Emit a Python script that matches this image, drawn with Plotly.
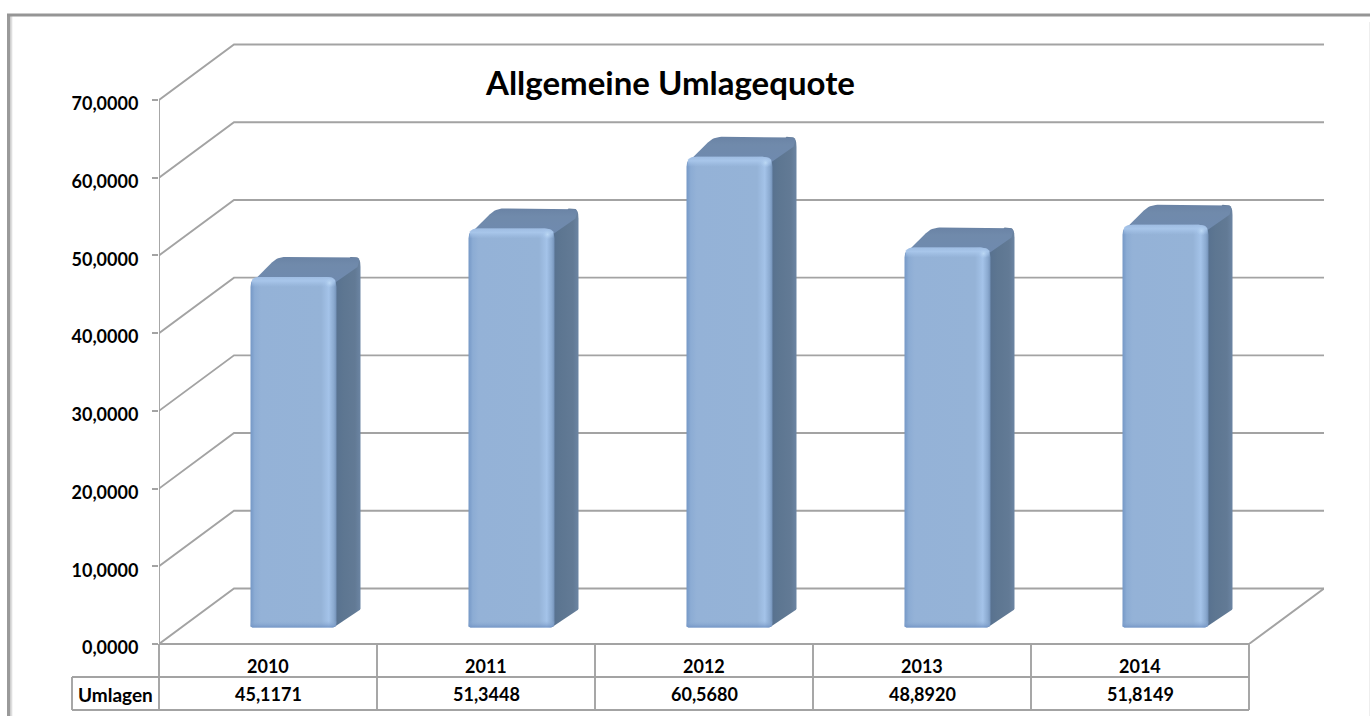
import plotly.graph_objects as go

# ---- data ----
years = ["2010", "2011", "2012", "2013", "2014"]
values = [45.1171, 51.3448, 60.5680, 48.8920, 51.8149]
value_labels = ["45,1171", "51,3448", "60,5680", "48,8920", "51,8149"]
tick_values = [0, 10, 20, 30, 40, 50, 60, 70]
tick_labels = ["0,0000", "10,0000", "20,0000", "30,0000", "40,0000", "50,0000", "60,0000", "70,0000"]
series_name = "Umlagen"
title = "Allgemeine Umlagequote"

# ---- geometry (pixels of the page) ----
W, H = 1370, 716
L, R, T, B = 159, 1324, 43, 644      # plot area
FR = 1249                            # right end of the front plane
PX_X = (FR - L) / len(years)         # px per category
PX_Y = (644 - 100) / 70              # px per value unit
XMIN, XMAX = -0.5, -0.5 + (R - L) / PX_X
YMAX = (B - T) / PX_Y
WALL_DX, WALL_DY = 75, 55.5          # depth of the floor
BAR_DX, BAR_DY = 25.5, 16.5          # where the bar fronts stand in the depth
DEP_DX, DEP_DY = 24, 20              # depth of a bar
BAR_W = 86
GRID = "#a3a3a3"
FONT = "Lato, Carlito, Calibri, sans-serif"
TXT = 18


def ux(px):
    return px / PX_X


def uy(px):
    return px / PX_Y


def px_paper_x(px):
    return (px - L) / (R - L)


def px_paper_y(px):
    return (B - px) / (B - T)


def rounded(points):
    """points: (x_px, y_px_up, radius_px) -> sampled outline in px."""
    out = []
    n = len(points)
    for i, (x, y, r) in enumerate(points):
        if r <= 0:
            out.append((x, y))
            continue
        px, py, _ = points[i - 1]
        nx, ny, _ = points[(i + 1) % n]
        d1 = ((px - x) ** 2 + (py - y) ** 2) ** 0.5
        d2 = ((nx - x) ** 2 + (ny - y) ** 2) ** 0.5
        a = (x + (px - x) * min(r / d1, 0.5), y + (py - y) * min(r / d1, 0.5))
        b = (x + (nx - x) * min(r / d2, 0.5), y + (ny - y) * min(r / d2, 0.5))
        for k in range(9):
            t = k / 8
            out.append(((1 - t) ** 2 * a[0] + 2 * t * (1 - t) * x + t ** 2 * b[0],
                        (1 - t) ** 2 * a[1] + 2 * t * (1 - t) * y + t ** 2 * b[1]))
    out.append(out[0])
    return out


def poly(cat, val, points, **kw):
    """Draw an outline given as pixel offsets around (category, value)."""
    o = rounded(points)
    return go.Scatter(x=[cat + ux(p[0]) for p in o], y=[val + uy(p[1]) for p in o],
                      mode="lines", line=dict(width=0), fill="toself",
                      hoverinfo="skip", showlegend=False, **kw)


def line(xs, ys, width=1.9):
    return go.Scatter(x=xs, y=ys, mode="lines", line=dict(color=GRID, width=width),
                      hoverinfo="skip", showlegend=False)


fig = go.Figure()

# walls: grid on the back wall and its run down the side wall
for v in tick_values:
    fig.add_trace(line([XMIN, XMIN + ux(WALL_DX), XMAX],
                       [v, v + uy(WALL_DY), v + uy(WALL_DY)]))
fig.add_trace(line([XMIN, XMIN], [0, 70]))
fig.add_trace(line([XMIN, XMIN + len(years), XMAX], [0, 0, uy(WALL_DY)]))

# bars
for i, v in enumerate(values):
    x0, x1 = BAR_DX - BAR_W / 2, BAR_DX + BAR_W / 2
    h = v * PX_Y
    y0, y1 = BAR_DY, BAR_DY + h
    # side face
    side = [(x1 - 3, y0, 0), (x1 - 3, y1 - 3, 0), (x1 + DEP_DX - 10, y1 + DEP_DY, 0),
            (x1 + DEP_DX, y1 + DEP_DY, 10), (x1 + DEP_DX, y0 + DEP_DY - 2, 1)]
    fig.add_trace(poly(i, 0, side, fillgradient=dict(
        type="horizontal",
        colorscale=[[0, "#56708f"], [0.35, "#5d7691"], [0.8, "#627a95"], [1, "#6c85a3"]])))
    # top face
    top = [(x0 + 1, y1 - 6, 6), (x0 + DEP_DX + 3, y1 + DEP_DY, 8), (x1 + DEP_DX, y1 + DEP_DY, 10),
           (x1 + DEP_DX - 3, y1 + DEP_DY - 10, 0), (x1 - 2, y1 - 6, 0)]
    fig.add_trace(poly(i, 0, top, fillgradient=dict(
        type="vertical",
        colorscale=[[0, "#6f8aaf"], [0.7, "#708aab"], [1, "#6a83a5"]])))
    # front face
    front = [(x0, y0, 2), (x0, y1, 10), (x1, y1, 10), (x1, y0, 5)]
    fig.add_trace(poly(i, 0, front, fillgradient=dict(
        type="horizontal",
        colorscale=[[0, "#7598c6"], [0.05, "#8cacd4"], [0.12, "#94b2d7"], [0.82, "#95b3d7"],
                    [0.91, "#a4c3e9"], [0.97, "#8aa9cf"], [1, "#7391b8"]])))
    # light rim along the top of the front face
    rim = [(x0 + 1, y1 - 10, 0), (x0 + 1, y1, 9), (x1 - 1, y1, 9), (x1 - 1, y1 - 10, 0)]
    fig.add_trace(poly(i, 0, rim, fillgradient=dict(
        type="vertical",
        colorscale=[[0, "rgba(164,195,233,0)"], [0.6, "rgba(170,200,236,0.9)"], [1, "rgba(160,190,228,0.9)"]])))
    # glint on the upper right corner
    glint = [(x1 - 12, y1 - 11, 5), (x1 - 12, y1 - 1, 5), (x1 - 2, y1 - 1, 5), (x1 - 2, y1 - 11, 5)]
    fig.add_trace(poly(i, 0, glint, fillgradient=dict(
        type="radial",
        colorscale=[[0, "rgba(190,218,245,0.95)"], [1, "rgba(170,200,236,0)"]])))
    # darker foot
    foot = [(x0, y0, 2), (x0, y0 + 7, 0), (x1, y0 + 7, 0), (x1, y0, 5)]
    fig.add_trace(poly(i, 0, foot, fillgradient=dict(
        type="vertical",
        colorscale=[[0, "rgba(112,146,196,0.9)"], [1, "rgba(149,179,215,0)"]])))

shapes = []
# data table
tx = [72] + [L + k * PX_X for k in range(len(years) + 1)]
row_y = [B, 677, 710]
for y in row_y:
    shapes.append(dict(type="line", xref="paper", yref="paper",
                       x0=px_paper_x(72 if y != B else L), x1=px_paper_x(FR),
                       y0=px_paper_y(y), y1=px_paper_y(y), line=dict(color=GRID, width=1.9)))
for k, x in enumerate(tx):
    shapes.append(dict(type="line", xref="paper", yref="paper",
                       x0=px_paper_x(x), x1=px_paper_x(x),
                       y0=px_paper_y(677 if k == 0 else B), y1=px_paper_y(710),
                       line=dict(color=GRID, width=1.9)))
# outer frame with a soft inner shade
for x, c, w in [(11.5, "#ececec", 2), (10.5, "#cfcfcf", 2), (8.5, "#9a9a9a", 3)]:
    shapes.append(dict(type="line", xref="paper", yref="paper", x0=px_paper_x(x), x1=px_paper_x(x),
                       y0=px_paper_y(15), y1=px_paper_y(H), line=dict(color=c, width=w)))
shapes.append(dict(type="line", xref="paper", yref="paper", x0=px_paper_x(7), x1=px_paper_x(W),
                   y0=px_paper_y(15), y1=px_paper_y(15), line=dict(color="#959595", width=3)))
shapes.append(dict(type="line", xref="paper", yref="paper", x0=px_paper_x(1369.5), x1=px_paper_x(1369.5),
                   y0=px_paper_y(22), y1=px_paper_y(H), line=dict(color="#eeeeee", width=1)))

anns = []
for i, y in enumerate(years):
    anns.append(dict(x=i, y=px_paper_y(665.5), xref="x", yref="paper", text=f"<b>{y}</b>",
                     showarrow=False, xanchor="center", yanchor="middle",
                     font=dict(family=FONT, size=TXT, color="#000000")))
for i, v in enumerate(value_labels):
    anns.append(dict(x=i, y=px_paper_y(694), xref="x", yref="paper", text=f"<b>{v}</b>",
                     showarrow=False, xanchor="center", yanchor="middle",
                     font=dict(family=FONT, size=TXT, color="#000000")))
anns.append(dict(x=px_paper_x(115.5), y=px_paper_y(694), xref="paper", yref="paper",
                 text=f"<b>{series_name}</b>", showarrow=False, xanchor="center", yanchor="middle",
                 font=dict(family=FONT, size=19, color="#000000")))
anns.append(dict(x=px_paper_x(670), y=px_paper_y(82), xref="paper", yref="paper",
                 text=f"<b>{title}</b>", showarrow=False, xanchor="center", yanchor="middle",
                 font=dict(family=FONT, size=33, color="#000000")))

fig.update_layout(
    width=W, height=H, autosize=False,
    margin=dict(l=L, r=W - R, t=T, b=H - B, pad=0),
    paper_bgcolor="#ffffff", plot_bgcolor="#ffffff",
    showlegend=False, shapes=shapes, annotations=anns,
    xaxis=dict(range=[XMIN, XMAX], visible=False, fixedrange=True),
    yaxis=dict(range=[0, YMAX], showgrid=False, zeroline=False, showline=False,
               tickmode="array", tickvals=tick_values, ticktext=[f"<b>{t}</b>" for t in tick_labels],
               ticks="outside", ticklen=6, tickcolor=GRID, tickwidth=1.9,
               ticklabelstandoff=10, ticklabelshift=4,
               tickfont=dict(family=FONT, size=TXT, color="#000000"), fixedrange=True),
)
fig.update_traces(cliponaxis=False)

fig.write_html("out.html", post_script="document.body.style.margin='0';",
               config=dict(displayModeBar=False))
